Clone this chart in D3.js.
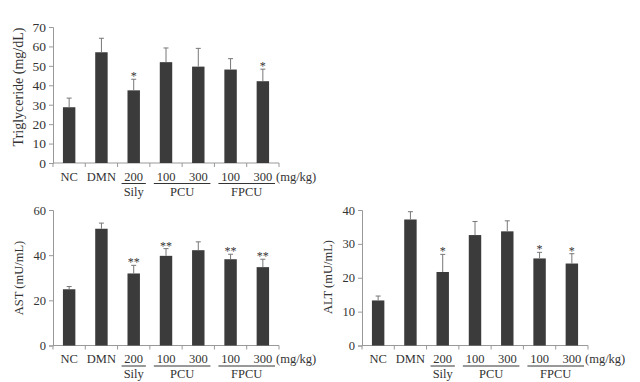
<!DOCTYPE html>
<meta charset="utf-8">
<script src="https://d3js.org/d3.v7.min.js"></script>
<style>
  body { margin: 0; background: #fff; }
  svg text { font-family: "Liberation Serif", "Times New Roman", serif; fill: #333; }
</style>
<div id="chart"></div>
<script>
  // categories along the x axis
  var doses = ["NC", "DMN", "200", "100", "300", "100", "300"];
  var groupNames = ["Sily", "PCU", "FPCU"];
  var groupFirst = [2, 3, 5];
  var groupLast = [2, 4, 6];

  // Triglyceride (mg/dL)
  var trigMean = [28.7, 57.0, 37.4, 51.9, 49.6, 48.1, 42.1];
  var trigSd = [4.7, 7.2, 5.7, 7.3, 9.4, 5.6, 6.2];
  var trigStars = ["", "", "*", "", "", "", "*"];
  var trigTicks = [0, 10, 20, 30, 40, 50, 60, 70];

  // AST (mU/mL)
  var astMean = [24.9, 51.7, 31.9, 39.7, 42.2, 38.2, 34.7];
  var astSd = [1.2, 2.5, 3.6, 3.2, 3.7, 2.2, 3.5];
  var astStars = ["", "", "**", "**", "", "**", "**"];
  var astTicks = [0, 20, 40, 60];

  // ALT (mU/mL)
  var altMean = [13.3, 37.2, 21.7, 32.6, 33.7, 25.7, 24.2];
  var altSd = [1.3, 2.3, 5.2, 4.0, 3.1, 1.8, 2.9];
  var altStars = ["", "", "*", "", "", "*", "*"];
  var altTicks = [0, 10, 20, 30, 40];

  var svg = d3.select("#chart").append("svg")
    .attr("width", 640)
    .attr("height", 382);

  function drawPanel(p) {
    var g = svg.append("g");
    var keys = d3.range(doses.length);

    var x = d3.scaleBand()
      .domain(keys)
      .range([p.left, p.right])
      .paddingInner(0.615)
      .paddingOuter(0.3075);

    var y = d3.scaleLinear()
      .domain([0, d3.max(p.ticks)])
      .range([p.bottom, p.top]);

    // y axis
    var yAxis = g.append("g")
      .attr("transform", "translate(" + p.left + ",0)")
      .call(d3.axisLeft(y).tickValues(p.ticks).tickSize(4).tickPadding(3));
    yAxis.attr("font-family", null).attr("font-size", null);
    yAxis.select(".domain").attr("stroke", "#999");
    yAxis.selectAll(".tick line").attr("stroke", "#999");
    yAxis.selectAll(".tick text")
      .style("font-size", p.yFont + "px")
      .attr("fill", "#333");

    // x axis baseline with ticks at the band edges
    g.append("line")
      .attr("x1", p.left).attr("x2", p.right)
      .attr("y1", p.bottom).attr("y2", p.bottom)
      .attr("stroke", "#999");
    var step = x.step();
    g.selectAll(".xtick")
      .data(d3.range(doses.length + 1))
      .enter().append("line")
      .attr("x1", function (d) { return p.left + d * step; })
      .attr("x2", function (d) { return p.left + d * step; })
      .attr("y1", p.bottom)
      .attr("y2", p.bottom + 4)
      .attr("stroke", "#999");

    // bars
    g.selectAll(".bar")
      .data(keys)
      .enter().append("rect")
      .attr("x", function (d) { return x(d); })
      .attr("width", x.bandwidth())
      .attr("y", function (d) { return y(p.mean[d]); })
      .attr("height", function (d) { return p.bottom - y(p.mean[d]); })
      .attr("fill", "#3b3b3b");

    // error bars (upper only)
    var cx = function (d) { return x(d) + x.bandwidth() / 2; };
    g.selectAll(".err")
      .data(keys)
      .enter().append("line")
      .attr("x1", cx).attr("x2", cx)
      .attr("y1", function (d) { return y(p.mean[d]); })
      .attr("y2", function (d) { return y(p.mean[d] + p.sd[d]); })
      .attr("stroke", "#777");
    g.selectAll(".cap")
      .data(keys)
      .enter().append("line")
      .attr("x1", function (d) { return cx(d) - 2.5; })
      .attr("x2", function (d) { return cx(d) + 2.5; })
      .attr("y1", function (d) { return y(p.mean[d] + p.sd[d]); })
      .attr("y2", function (d) { return y(p.mean[d] + p.sd[d]); })
      .attr("stroke", "#777");

    // significance stars
    g.selectAll(".star")
      .data(keys)
      .enter().append("text")
      .attr("x", cx)
      .attr("y", function (d) { return y(p.mean[d] + p.sd[d]) + 1; })
      .attr("text-anchor", "middle")
      .style("font-size", "12px")
      .text(function (d) { return p.stars[d]; });

    // dose labels
    g.selectAll(".dose")
      .data(keys)
      .enter().append("text")
      .attr("x", cx)
      .attr("y", p.bottom + 17.5)
      .attr("text-anchor", "middle")
      .style("font-size", "12.5px")
      .text(function (d) { return doses[d]; });
    g.append("text")
      .attr("x", p.right - 3)
      .attr("y", p.bottom + 17.5)
      .style("font-size", "12.5px")
      .text("(mg/kg)");

    // group underlines and names
    groupNames.forEach(function (name, i) {
      var a = x(groupFirst[i]) - x.paddingInner() * step / 2 + 4;
      var b = x(groupLast[i]) + x.bandwidth() + x.paddingInner() * step / 2 - 4;
      g.append("line")
        .attr("x1", a).attr("x2", b)
        .attr("y1", p.bottom + 20.5).attr("y2", p.bottom + 20.5)
        .attr("stroke", "#333");
      g.append("text")
        .attr("x", (a + b) / 2)
        .attr("y", p.bottom + 32.5)
        .attr("text-anchor", "middle")
        .style("font-size", "12.5px")
        .text(name);
    });

    // y label
    g.append("text")
      .attr("transform", "translate(" + p.labelX + "," + p.labelY + ") rotate(-90)")
      .attr("text-anchor", "middle")
      .style("font-size", p.labelFont + "px")
      .text(p.label);
  }

  drawPanel({ left: 53, right: 279, top: 27, bottom: 163, ticks: trigTicks,
    mean: trigMean, sd: trigSd, stars: trigStars, yFont: 13.5, labelFont: 14,
    label: "Triglyceride (mg/dL)", labelX: 23, labelY: 87 });

  drawPanel({ left: 53, right: 279, top: 210, bottom: 345.5, ticks: astTicks,
    mean: astMean, sd: astSd, stars: astStars, yFont: 12.5, labelFont: 12.5,
    label: "AST (mU/mL)", labelX: 23, labelY: 278 });

  drawPanel({ left: 362, right: 588, top: 210, bottom: 345.5, ticks: altTicks,
    mean: altMean, sd: altSd, stars: altStars, yFont: 12.5, labelFont: 12.5,
    label: "ALT (mU/mL)", labelX: 332, labelY: 277 });
</script>
